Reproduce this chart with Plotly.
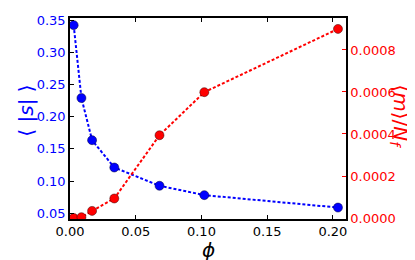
import plotly.graph_objects as go

phi = [0.0028, 0.0087, 0.0168, 0.0337, 0.0681, 0.1022, 0.2039]
s_abs = [0.3424, 0.2290, 0.1635, 0.1210, 0.0926, 0.0780, 0.0587]
m_over_n = [0.0000, 0.000004, 0.000034, 0.000093, 0.000394, 0.000599, 0.000900]

x_ticks = [0.0, 0.05, 0.10, 0.15, 0.20]
left_ticks = [0.05, 0.10, 0.15, 0.20, 0.25, 0.30, 0.35]
right_ticks = [0.0, 0.0002, 0.0004, 0.0006, 0.0008]

BLUE = "#0000ff"
RED = "#ff0000"
FONT = "DejaVu Sans"

fig = go.Figure()
fig.add_trace(go.Scatter(
    x=phi, y=s_abs, mode="lines+markers", yaxis="y",
    line=dict(color=BLUE, width=2, dash="3px,2px"),
    marker=dict(color=BLUE, size=9, line=dict(color="#000033", width=0.5)),
    showlegend=False))
fig.add_trace(go.Scatter(
    x=phi, y=m_over_n, mode="lines+markers", yaxis="y2",
    line=dict(color=RED, width=2, dash="3px,2px"),
    marker=dict(color=RED, size=9, line=dict(color="#330000", width=0.5)),
    showlegend=False))

fig.update_layout(
    width=415, height=260,
    margin=dict(l=62, r=77, t=5, b=49),
    paper_bgcolor="white", plot_bgcolor="white",
    font=dict(family=FONT, size=13, color="black"),
    xaxis=dict(range=[0, 0.21], tickvals=x_ticks, tickformat=".2f",
               ticks="inside", ticklen=4, tickcolor="black",
               showline=True, linecolor="black", linewidth=1.5, mirror="ticks",
               showgrid=False, zeroline=False,
               tickfont=dict(size=13, color="black")),
    yaxis=dict(range=[0.0409, 0.3535], tickvals=left_ticks, tickformat=".2f",
               ticks="inside", ticklen=4, tickcolor="black",
               showline=True, linecolor="black", linewidth=1.5,
               showgrid=False, zeroline=False,
               tickfont=dict(size=13, color=BLUE)),
    yaxis2=dict(range=[-0.0000046, 0.000952], tickvals=right_ticks, tickformat=".4f",
                overlaying="y", side="right",
                ticks="inside", ticklen=4, tickcolor=RED,
                showline=True, linecolor="black", linewidth=1.5,
                showgrid=False, zeroline=False,
                tickfont=dict(size=13, color=RED)),
    annotations=[
        dict(text="<i>ϕ</i>", xref="paper", yref="paper", x=0.5, y=0,
             xanchor="center", yanchor="middle", yshift=-31, borderpad=0,
             showarrow=False, font=dict(size=20, color="black", family=FONT)),
        dict(text="⟨ |<i>s</i>| ⟩", textangle=-90,
             xref="paper", yref="paper", x=0, y=0.539,
             xanchor="center", yanchor="middle", xshift=-44,
             showarrow=False, font=dict(size=20, color=BLUE, family=FONT)),
        dict(text="⟨<i>m</i>⟩/<i>N<sub>f</sub></i>", textangle=90,
             xref="paper", yref="paper", x=1.0, y=0.51,
             xanchor="center", yanchor="middle", xshift=54,
             showarrow=False, font=dict(size=20, color=RED, family=FONT)),
    ],
)

fig.write_html("out.html")
